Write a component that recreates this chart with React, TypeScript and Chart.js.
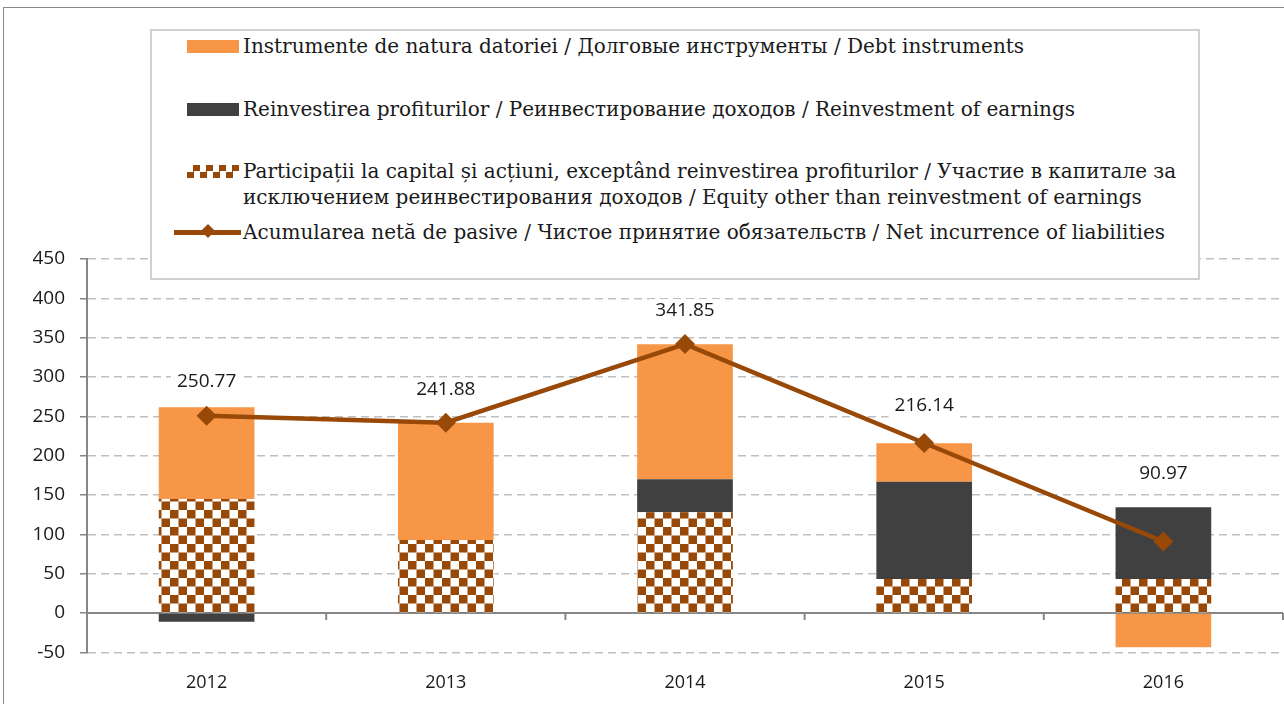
import React, { useEffect, useRef } from 'react';
import { Chart, registerables } from 'chart.js';

Chart.register(...registerables);

// ---- data ----
const YEARS = ['2012', '2013', '2014', '2015', '2016'];
const DEBT = [116.5, 149, 171.5, 48.7, -43.5];
const REINVEST = [-11, 0, 42, 123.8, 91.2];
const EQUITY = [145, 92.8, 128, 43.2, 43.2];
const NET = [250.77, 241.88, 341.85, 216.14, 90.97];
const Y_MIN = -50;
const Y_MAX = 450;
const Y_STEP = 50;

const LABEL_DEBT = 'Instrumente de natura datoriei / Долговые инструменты / Debt instruments';
const LABEL_REINV = 'Reinvestirea profiturilor / Реинвестирование доходов / Reinvestment of earnings';
const LABEL_EQUITY_1 = 'Participații la capital și acțiuni, exceptând reinvestirea profiturilor / Участие в капитале за';
const LABEL_EQUITY_2 = 'исключением реинвестирования доходов / Equity other than reinvestment of earnings';
const LABEL_NET = 'Acumularea netă de pasive / Чистое принятие обязательств / Net incurrence of liabilities';

// ---- style ----
const ORANGE = '#F79646';
const DARK = '#404040';
const BROWN = '#984807';
const GRID = '#BFBFBF';
const AXIS = '#868686';
const TEXT = '#1a1a1a';
const SANS = '"Open Sans", "Noto Sans", sans-serif';
const SERIF = '"DejaVu Serif", serif';
const LABEL_LIFT = [34, 33, 33, 37, 68];
const CANVAS_W = 1293;
const CANVAS_H = 724;

function makeChecker(ctx: CanvasRenderingContext2D, cell: number) {
  const cv = document.createElement('canvas');
  const n = Math.round(cell * 2);
  cv.width = n;
  cv.height = n;
  const g = cv.getContext('2d')!;
  g.fillStyle = '#ffffff';
  g.fillRect(0, 0, n, n);
  g.fillStyle = BROWN;
  g.fillRect(0, 0, n / 2, n / 2);
  g.fillRect(n / 2, n / 2, n / 2, n / 2);
  return ctx.createPattern(cv, 'repeat')!;
}

const zeroLinePlugin = {
  id: 'zeroLine',
  beforeDatasetsDraw(chart: any) {
    const { ctx, chartArea, scales } = chart;
    const y0 = scales.y.getPixelForValue(0);
    ctx.save();
    ctx.strokeStyle = AXIS;
    ctx.lineWidth = 2;
    ctx.beginPath();
    ctx.moveTo(chartArea.left, y0);
    ctx.lineTo(chartArea.right, y0);
    const n = YEARS.length;
    for (let i = 0; i <= n; i++) {
      let x;
      if (i === 0) x = chartArea.left;
      else if (i === n) x = chartArea.right;
      else x = (scales.x.getPixelForValue(i - 1) + scales.x.getPixelForValue(i)) / 2;
      ctx.moveTo(x, y0);
      ctx.lineTo(x, y0 + 7);
    }
    ctx.stroke();
    ctx.restore();
  },
};

const valueLabelPlugin = {
  id: 'valueLabels',
  afterDatasetsDraw(chart: any) {
    const { ctx } = chart;
    const idx = chart.data.datasets.findIndex((d: any) => d.type === 'line');
    const meta = chart.getDatasetMeta(idx);
    ctx.save();
    ctx.font = `19px ${SANS}`;
    ctx.textAlign = 'center';
    ctx.textBaseline = 'middle';
    meta.data.forEach((pt: any, i: number) => {
      const text = NET[i].toFixed(2);
      const x = pt.x;
      const y = pt.y - LABEL_LIFT[i];
      const w = ctx.measureText(text).width;
      ctx.fillStyle = '#ffffff';
      ctx.fillRect(x - w / 2 - 6, y - 12, w + 12, 24);
      ctx.fillStyle = TEXT;
      ctx.fillText(text, x, y);
    });
    ctx.restore();
  },
};

export default function App() {
  const ref = useRef<HTMLCanvasElement>(null);

  useEffect(() => {
    const canvas = ref.current!;
    const ctx = canvas.getContext('2d')!;
    const checker = makeChecker(ctx, 8.5);
    const chart = new Chart(ctx, {
      type: 'bar',
      data: {
        labels: YEARS,
        datasets: [
          {
            type: 'line',
            label: LABEL_NET,
            data: NET,
            borderColor: BROWN,
            backgroundColor: BROWN,
            borderWidth: 4.5,
            pointStyle: 'rectRot',
            pointRadius: 10,
            pointBackgroundColor: BROWN,
            pointBorderWidth: 0,
            stack: 'line',
            order: 0,
            tension: 0,
          } as any,
          {
            type: 'bar',
            label: 'equity',
            data: EQUITY,
            backgroundColor: checker,
            stack: 'bars',
            order: 1,
          },
          {
            type: 'bar',
            label: LABEL_REINV,
            data: REINVEST,
            backgroundColor: DARK,
            stack: 'bars',
            order: 1,
          },
          {
            type: 'bar',
            label: LABEL_DEBT,
            data: DEBT,
            backgroundColor: ORANGE,
            stack: 'bars',
            order: 1,
          },
        ],
      },
      options: {
        responsive: false,
        animation: false,
        events: [],
        datasets: { bar: { barPercentage: 0.4, categoryPercentage: 1.0 } },
        layout: { padding: { top: 259, left: 0, right: 2, bottom: 10 } },
        plugins: { legend: { display: false }, tooltip: { enabled: false }, title: { display: false } },
        scales: {
          x: {
            type: 'category',
            stacked: true,
            offset: true,
            grid: { display: false, drawTicks: false },
            border: { display: false },
            ticks: { color: TEXT, font: { family: SANS, size: 18 }, padding: 20 },
          },
          y: {
            stacked: true,
            min: Y_MIN,
            max: Y_MAX,
            afterFit: (s: any) => { s.width = 87; },
            ticks: { stepSize: Y_STEP, color: TEXT, font: { family: SANS, size: 19 }, padding: 15 },
            grid: {
              color: (c: any) => (c.tick && c.tick.value === 0 ? 'rgba(0,0,0,0)' : GRID),
              lineWidth: 1.5,
              tickColor: AXIS,
              tickLength: 7,
              tickWidth: 1.5,
              tickBorderDash: [],
            },
            border: { display: true, color: AXIS, width: 2, dash: [8, 5] },
          },
        },
      },
      plugins: [zeroLinePlugin, valueLabelPlugin],
    });
    return () => chart.destroy();
  }, []);

  const textStyle: React.CSSProperties = {
    position: 'absolute',
    left: 243,
    fontFamily: SERIF,
    fontSize: 20,
    lineHeight: '26px',
    color: TEXT,
    whiteSpace: 'nowrap',
  };
  const swatch = (top: number, bg: string): React.CSSProperties => ({
    position: 'absolute',
    left: 187,
    top,
    width: 52,
    height: 13,
    background: bg,
  });

  return (
    <div style={{ position: 'fixed', left: 0, top: 0, width: 1284, height: 704, background: '#fff', overflow: 'hidden' }}>
      <div style={{ position: 'absolute', left: 3, top: 7, right: 0, bottom: 0, borderTop: '1px solid #8a8a8a', borderLeft: '1px solid #8a8a8a' }} />
      <canvas ref={ref} width={CANVAS_W} height={CANVAS_H} style={{ position: 'absolute', left: 0, top: 0 }} />
      <div style={{ position: 'absolute', left: 150, top: 29, width: 1046, height: 247, border: '2px solid #d0d0d0', background: '#fff' }} />
      <div style={swatch(40, ORANGE)} />
      <div style={{ ...textStyle, top: 33 }}>{LABEL_DEBT}</div>
      <div style={swatch(103, DARK)} />
      <div style={{ ...textStyle, top: 96 }}>{LABEL_REINV}</div>
      <div style={swatch(165, `repeating-conic-gradient(${BROWN} 0 25%, #ffffff 0 50%) 0 0 / 13px 13px`)} />
      <div style={{ ...textStyle, top: 158 }}>{LABEL_EQUITY_1}<br />{LABEL_EQUITY_2}</div>
      <div style={{ position: 'absolute', left: 174, top: 230, width: 67, height: 4.5, background: BROWN }} />
      <div style={{ position: 'absolute', left: 203, top: 226, width: 10, height: 10, background: BROWN, transform: 'rotate(45deg)' }} />
      <div style={{ ...textStyle, top: 219 }}>{LABEL_NET}</div>
    </div>
  );
}
